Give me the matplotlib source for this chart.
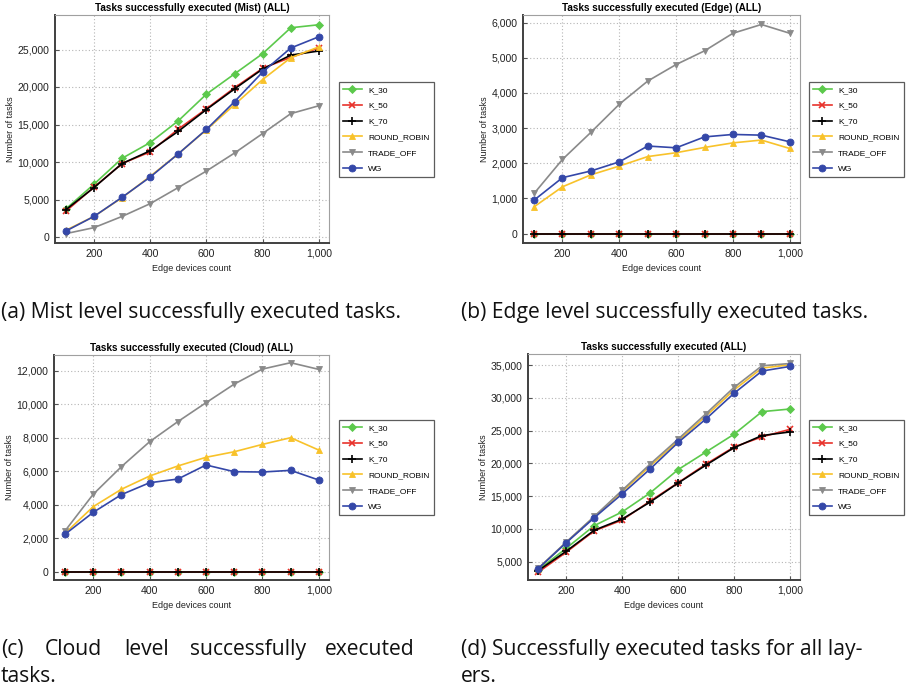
import matplotlib
matplotlib.use("Agg")
import matplotlib.pyplot as plt

# edge devices count
x_vals = [100, 200, 300, 400, 500, 600, 700, 800, 900, 1000]

series_names = ["K_30", "K_50", "K_70", "ROUND_ROBIN", "TRADE_OFF", "WG"]

# (a) mist level
mist_k30 = [3750, 7050, 10500, 12600, 15500, 19050, 21750, 24450, 27900, 28300]
mist_k50 = [3450, 6650, 9800, 11350, 14400, 17100, 19900, 22500, 23950, 25200]
mist_k70 = [3650, 6600, 9800, 11500, 14100, 17000, 19750, 22400, 24250, 24800]
mist_rr = [900, 2750, 5250, 8100, 11100, 14300, 17650, 21000, 23900, 25350]
mist_to = [450, 1250, 2750, 4450, 6600, 8800, 11200, 13800, 16450, 17500]
mist_wg = [800, 2750, 5300, 8000, 11100, 14350, 18050, 22000, 25200, 26700]

# (b) edge level
edge_k30 = [0] * 10
edge_k50 = [0] * 10
edge_k70 = [0] * 10
edge_rr = [760, 1330, 1670, 1920, 2190, 2300, 2450, 2580, 2660, 2420]
edge_to = [1140, 2110, 2880, 3680, 4340, 4810, 5200, 5700, 5950, 5700]
edge_wg = [950, 1590, 1780, 2040, 2490, 2440, 2750, 2820, 2800, 2610]

# (c) cloud level
cloud_k30 = [0] * 10
cloud_k50 = [0] * 10
cloud_k70 = [0] * 10
cloud_rr = [2290, 3880, 4920, 5710, 6310, 6830, 7160, 7600, 8000, 7260]
cloud_to = [2430, 4620, 6270, 7760, 8960, 10090, 11200, 12100, 12480, 12080]
cloud_wg = [2230, 3540, 4600, 5310, 5530, 6370, 5970, 5950, 6050, 5470]

# (d) all layers
all_k30 = [3750, 7050, 10500, 12600, 15500, 19050, 21750, 24450, 27900, 28300]
all_k50 = [3400, 6450, 9700, 11350, 14250, 17050, 19900, 22500, 24050, 25200]
all_k70 = [3650, 6600, 9800, 11500, 14100, 17000, 19750, 22400, 24250, 24800]
all_rr = [3950, 7950, 11850, 15700, 19600, 23450, 27250, 31200, 34550, 35050]
all_to = [4000, 8000, 11900, 15900, 19900, 23700, 27600, 31600, 34900, 35250]
all_wg = [3950, 7900, 11700, 15350, 19150, 23200, 26800, 30700, 34100, 34800]

colors = ["#5cc94c", "#e8322b", "#000000", "#f8c22a", "#8a8a8a", "#3447a8"]
markers = ["D", "x", "+", "^", "v", "o"]
msizes = [4, 5, 5.5, 4.5, 4.5, 5]

plt.rcParams["font.family"] = ["Liberation Sans", "DejaVu Sans"]

W, H = 906, 691
fig = plt.figure(figsize=(W / 100, H / 100), dpi=100)


def px_axes(left, top, right, bottom):
    return fig.add_axes([left / W, 1 - bottom / H, (right - left) / W, (bottom - top) / H])


panels = [
    dict(box=(55, 15, 329, 243), legend=(339, 82), xlim=(61, 1036), ylim=(-800, 29600),
         yticks=[0, 5000, 10000, 15000, 20000, 25000],
         title="Tasks successfully executed (Mist) (ALL)",
         data=[mist_k30, mist_k50, mist_k70, mist_rr, mist_to, mist_wg]),
    dict(box=(523, 15, 800, 243), legend=(809, 82), xlim=(61, 1036), ylim=(-270, 6220),
         yticks=[0, 1000, 2000, 3000, 4000, 5000, 6000],
         title="Tasks successfully executed (Edge) (ALL)",
         data=[edge_k30, edge_k50, edge_k70, edge_rr, edge_to, edge_wg]),
    dict(box=(54, 355, 329, 580), legend=(339, 420), xlim=(61, 1036), ylim=(-500, 12940),
         yticks=[0, 2000, 4000, 6000, 8000, 10000, 12000],
         title="Tasks successfully executed (Cloud) (ALL)",
         data=[cloud_k30, cloud_k50, cloud_k70, cloud_rr, cloud_to, cloud_wg]),
    dict(box=(528, 354, 800, 580), legend=(809, 420), xlim=(63, 1036), ylim=(2200, 36700),
         yticks=[5000, 10000, 15000, 20000, 25000, 30000, 35000],
         title="Tasks successfully executed (ALL)",
         data=[all_k30, all_k50, all_k70, all_rr, all_to, all_wg]),
]

for p in panels:
    ax = px_axes(*p["box"])
    for name, vals, c, m, ms in zip(series_names, p["data"], colors, markers, msizes):
        ax.plot(x_vals, vals, color=c, marker=m, markersize=ms, linewidth=1.2,
                markeredgewidth=1.2 if m in "x+" else 0.6, label=name)
    ax.set_xlim(*p["xlim"])
    ax.set_ylim(*p["ylim"])
    ax.set_xticks([200, 400, 600, 800, 1000])
    ax.set_yticks(p["yticks"])
    ax.xaxis.set_major_formatter(matplotlib.ticker.StrMethodFormatter("{x:,.0f}"))
    ax.yaxis.set_major_formatter(matplotlib.ticker.StrMethodFormatter("{x:,.0f}"))
    ax.grid(True, color="#b5b5b5", linestyle=(0, (1, 2)), linewidth=0.8)
    ax.set_axisbelow(True)
    ax.tick_params(labelsize=7.6, length=3, direction="in", color="#555555", pad=4,
                   labelcolor="#222222")
    for s in ["left", "bottom"]:
        ax.spines[s].set_color("#404040")
        ax.spines[s].set_linewidth(1.4)
    for s in ["top", "right"]:
        ax.spines[s].set_color("#a0a0a0")
        ax.spines[s].set_linewidth(0.8)
    ax.set_title(p["title"], fontsize=7.2, fontweight="bold", pad=3)
    ax.set_xlabel("Edge devices count", fontsize=6.5, labelpad=4, color="#222222")
    ax.set_ylabel("Number of tasks", fontsize=6.5, labelpad=2, color="#222222")
    lx, ly = p["legend"]
    leg = ax.legend(loc="upper left", bbox_to_anchor=(lx / W, 1 - ly / H),
                    bbox_transform=fig.transFigure, fontsize=6, frameon=True,
                    fancybox=False, borderaxespad=0, handlelength=2.2,
                    labelspacing=0.95, borderpad=0.5, handletextpad=0.8)
    leg.get_frame().set_edgecolor("#333333")
    leg.get_frame().set_linewidth(0.9)

cap_kw = dict(fontsize=15.2, family=["Open Sans", "DejaVu Sans"], color="#111111",
              va="baseline", ha="left")
fig.text(1 / W, 1 - 318 / H, "(a) Mist level successfully executed tasks.", **cap_kw)
fig.text(461 / W, 1 - 318 / H, "(b) Edge level successfully executed tasks.", **cap_kw)
for word, xp in [("(c)", 1), ("Cloud", 45), ("level", 124), ("successfully", 190),
                 ("executed", 325)]:
    fig.text(xp / W, 1 - 655 / H, word, **cap_kw)
fig.text(1 / W, 1 - 682 / H, "tasks.", **cap_kw)
fig.text(461 / W, 1 - 655 / H, "(d) Successfully executed tasks for all lay-", **cap_kw)
fig.text(461 / W, 1 - 682 / H, "ers.", **cap_kw)

fig.savefig("out.png", dpi=100)
